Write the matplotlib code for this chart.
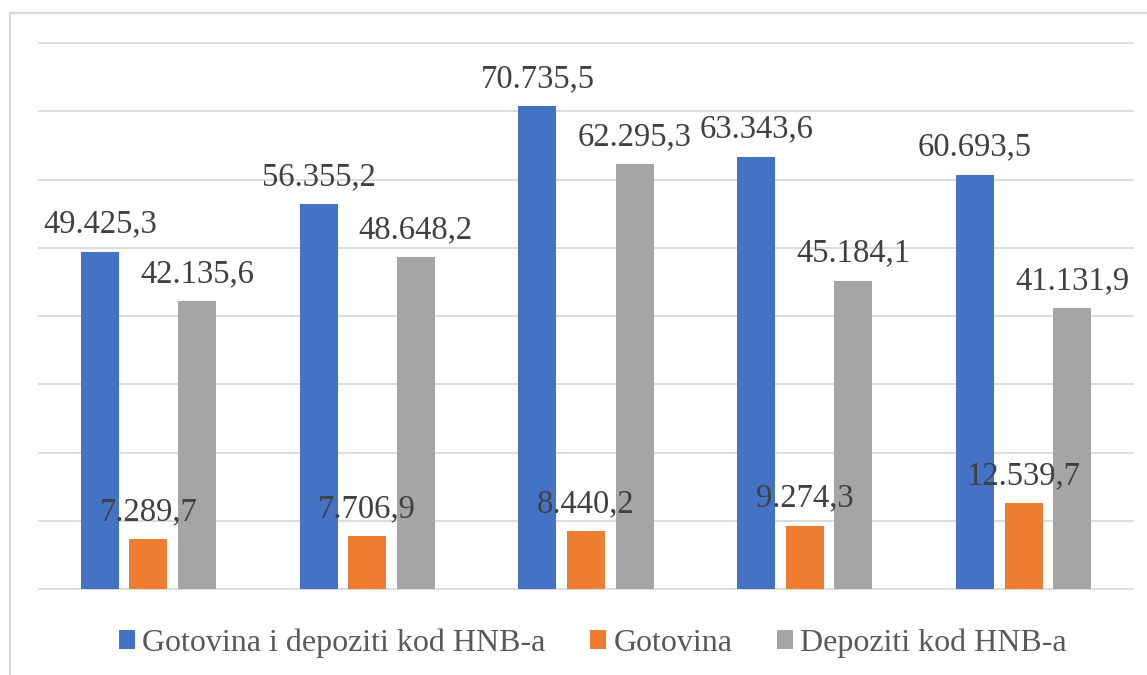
import matplotlib
matplotlib.use("Agg")
import matplotlib.pyplot as plt
from matplotlib.patches import Rectangle
import numpy as np

# ---- data ----
groups = ["1", "2", "3", "4", "5"]
series_names = ["Gotovina i depoziti kod HNB-a", "Gotovina", "Depoziti kod HNB-a"]
total = [49425.3, 56355.2, 70735.5, 63343.6, 60693.5]
cash = [7289.7, 7706.9, 8440.2, 9274.3, 12539.7]
deposits = [42135.6, 48648.2, 62295.3, 45184.1, 41131.9]
colors = ["#4472C4", "#ED7D31", "#A5A5A5"]

FAM = ["Liberation Serif", "DejaVu Serif"]
plt.rcParams["font.family"] = FAM

fig = plt.figure(figsize=(11.47, 6.75), dpi=100)
W, H = 1147, 675
ax = fig.add_axes([39 / W, 1 - 589 / H, 1094 / W, 546 / H])

x = np.arange(len(groups))
bw = 0.174
off = 0.222

def fmt(v):
    s = f"{v:,.1f}"
    return s.replace(",", "X").replace(".", ",").replace("X", ".")

for i, (vals, col, name) in enumerate(zip([total, cash, deposits], colors, series_names)):
    xs = x + (i - 1) * off
    ax.bar(xs, vals, width=bw, color=col, label=name, zorder=3)
    for xi, v in zip(xs, vals):
        ax.annotate(fmt(v), (xi, v), xytext=(0, 19), textcoords="offset pixels",
                    ha="center", va="baseline", fontsize=23.5, family=FAM,
                    color="#404040", zorder=4)

ax.set_xlim(-0.5, len(groups) - 0.5)
ax.set_ylim(0, 80000)
ax.set_yticks(np.arange(0, 80001, 10000))
ax.yaxis.grid(True, color="#D9D9D9", linewidth=1.3, zorder=0)
ax.set_axisbelow(True)
ax.tick_params(left=False, bottom=False, labelleft=False, labelbottom=False)
for s in ax.spines.values():
    s.set_visible(False)
for gl in ax.get_ygridlines():
    gl.set_clip_on(False)

leg = fig.legend(loc="center", bbox_to_anchor=(593 / W, 1 - 643 / H), ncol=3,
                 frameon=False, prop={"family": FAM, "size": 23},
                 handlelength=0.5, handleheight=0.5,
                 handletextpad=0.22, columnspacing=1.4, borderaxespad=0)
for t in leg.get_texts():
    t.set_color("#595959")

fig.patches.append(Rectangle((10 / W, -0.05), 1.2, 1.05 - 13 / H, transform=fig.transFigure,
                             fill=False, edgecolor="#D9D9D9", linewidth=1.5))

fig.savefig("out.png", dpi=100)
